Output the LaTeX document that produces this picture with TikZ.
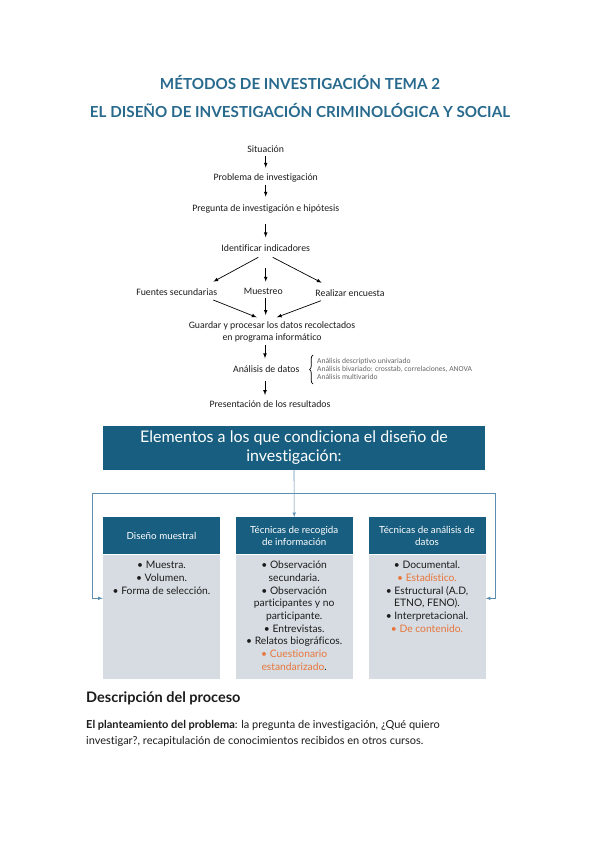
\documentclass[tikz,border=0pt]{standalone}
\usepackage{fontspec}
\setmainfont{Lato}[Ligatures=NoCommon]
\newfontfamily\calibri{Carlito}[Ligatures=NoCommon]
\usetikzlibrary{positioning}
\usetikzlibrary{decorations.pathreplacing}
\definecolor{titleblue}{RGB}{40,106,142}
\definecolor{headblue}{RGB}{24,94,128}
\definecolor{bodygray}{RGB}{214,220,226}
\definecolor{linkblue}{RGB}{92,142,176}
\definecolor{accent}{RGB}{232,118,60}
\definecolor{ink}{RGB}{28,28,28}
\newcommand{\liststrut}{\rule{0pt}{8pt}}
\tikzset{
    FlowNode/.style = {inner sep=1pt, text=ink, font=\calibri\fontsize{9.8}{10}\selectfont}
}
\tikzset{
    Edge/.style = {draw=black, line width=0.7pt, -latex}
}
\begin{document}
\begin{tikzpicture}[
    x=1pt, y=-1pt,
    font=\fontsize{10.3}{12.7}\selectfont
]
\tikzset{
    HeadBox/.style = {fill=headblue, text=white, align=center, minimum width=117pt, minimum height=37pt, inner sep=2pt, font=\fontsize{9.8}{11.6}\selectfont},
    BodyBox/.style = {fill=bodygray, minimum width=117pt, minimum height=124pt, inner sep=0pt},
    ListText/.style = {anchor=north, align=center, inner sep=0pt, text=ink},
    Link/.style = {draw=linkblue, line width=0.6pt},
}
\useasboundingbox (0,0) rectangle (599,848);
\fill[white] (0,0) rectangle (599,848);

% titulos
\node[text=titleblue, font=\bfseries\fontsize{15.2}{16}\selectfont] at (300,82.7) (tema) {MÉTODOS DE INVESTIGACIÓN TEMA 2};
\node[text=titleblue, font=\bfseries\fontsize{15.2}{16}\selectfont] at (300,110) (diseno) {EL DISEÑO DE INVESTIGACIÓN CRIMINOLÓGICA Y SOCIAL};

% esquema del proceso
\node[FlowNode] at (265.7,149) (sit) {Situación};
\node[FlowNode] at (265.7,177.7) (prob) {Problema de investigación};
\node[FlowNode] at (265.7,209.3) (preg) {Pregunta de investigación e hipótesis};
\node[FlowNode] at (265.7,248.3) (ident) {Identificar indicadores};
\node[FlowNode] at (176.7,291.7) (fuen) {Fuentes secundarias};
\node[FlowNode] at (263.3,291) (mues) {Muestreo};
\node[FlowNode] at (350,293.3) (real) {Realizar encuesta};
\node[FlowNode, align=center, font=\calibri\fontsize{9.8}{12.3}\selectfont] at (272,332) (guar) {Guardar y procesar los datos recolectados\\en programa informático};
\node[FlowNode] at (266.3,369.3) (anal) {Análisis de datos};
\node[FlowNode] at (270,404) (pres) {Presentación de los resultados};
\node[FlowNode, anchor=west, align=left, text=black!60, font=\calibri\fontsize{7.6}{8.3}\selectfont] at (316,369) (tipos) {Análisis descriptivo univariado\\Análisis bivariado: crosstab, correlaciones, ANOVA\\Análisis multivarido};

\path (sit.center) edge [Edge, shorten <=7pt, shorten >=10pt] (prob.center);
\path (prob.center) edge [Edge, shorten <=7.3pt, shorten >=12.6pt] (preg.center);
\path (preg.center) edge [Edge, shorten <=15pt, shorten >=11pt] (ident.center);
\path ([shift={(-7.4,9)}]ident.center) edge [Edge] ([shift={(36.6,-10)}]fuen.center);
\path (ident.center) edge [Edge, shorten <=19.4pt, shorten >=9.3pt] (ident.center |- mues.center);
\path ([shift={(7,9)}]ident.center) edge [Edge] ([shift={(-28.3,-10.6)}]real.center);
\path ([shift={(36.6,8.3)}]fuen.center) edge [Edge] ([shift={(-15.3,-14.7)}]guar.center);
\path ([shift={(2.4,7.3)}]mues.center) edge [Edge] ([shift={(-6.3,-17)}]guar.center);
\path ([shift={(-29,7.4)}]real.center) edge [Edge] ([shift={(4.7,-14.7)}]guar.center);
\path ([shift={(-7,13)}]guar.center) edge [Edge] ([shift={(-1.3,-11)}]anal.center);
\path ([shift={(-1.3,11.7)}]anal.center) edge [Edge] ([shift={(-5,-9)}]pres.center);
\draw[line width=0.7pt, decorate, decoration={brace, amplitude=3.5pt}] ([shift={(-3,15)}]tipos.west) -- ([shift={(-3,-14)}]tipos.west);

% elementos que condiciona
\node[fill=headblue, text=white, align=center, minimum width=382pt, minimum height=44pt, font=\fontsize{16}{19}\selectfont] at (294,448) (elem) {Elementos a los que condiciona el diseño de\\investigación:};
\node[HeadBox] at (161.5,535.8) (h1) {Diseño muestral};
\node[HeadBox] at (294.2,535.8) (h2) {Técnicas de recogida\\de información};
\node[HeadBox] at (427,535.8) (h3) {Técnicas de análisis de\\datos};
\node[BodyBox, below=0pt of h1] (b1) {};
\node[BodyBox, below=0pt of h2] (b2) {};
\node[BodyBox, below=0pt of h3] (b3) {};
\node[ListText] at ([yshift=-6pt]b1.north) (l1) {\liststrut• Muestra.\\• Volumen.\\• Forma de selección.};
\node[ListText] at ([yshift=-6pt]b2.north) (l2) {\liststrut• Observación\\secundaria.\\• Observación\\participantes y no\\participante.\\• Entrevistas.\\• Relatos biográficos.\\\textcolor{accent}{• Cuestionario}\\\textcolor{accent}{estandarizado}.};
\node[ListText] at ([yshift=-6pt]b3.north) (l3) {\liststrut• Documental.\\\textcolor{accent}{• Estadístico.}\\• Estructural (A.D,\\ETNO, FENO).\\• Interpretacional.\\\textcolor{accent}{• De contenido.}};

\coordinate (split) at (294.2,493.3);
\coordinate (lhook) at (92.3,598.3);
\coordinate (rhook) at (495.7,598.3);
\draw[Link, -latex] (elem.south) -- (h2.north);
\draw[Link, -latex] (split) -| (lhook) -- (lhook -| b1.west);
\draw[Link, -latex] (split) -| (rhook) -- (rhook -| b3.east);

% descripcion
\node[anchor=west, inner sep=0pt, text=ink, font=\bfseries\fontsize{14.5}{16}\selectfont] at (86,698) (desc) {Descripción del proceso};
\node[anchor=north west, align=left, inner sep=0pt, text=ink, font=\fontsize{11}{15.5}\selectfont] at (86,719.5) (plan) {\rule{0pt}{9pt}\textbf{El planteamiento del problema}: la pregunta de investigación, ¿Qué quiero\\investigar?, recapitulación de conocimientos recibidos en otros cursos.};
\end{tikzpicture}
\end{document}
